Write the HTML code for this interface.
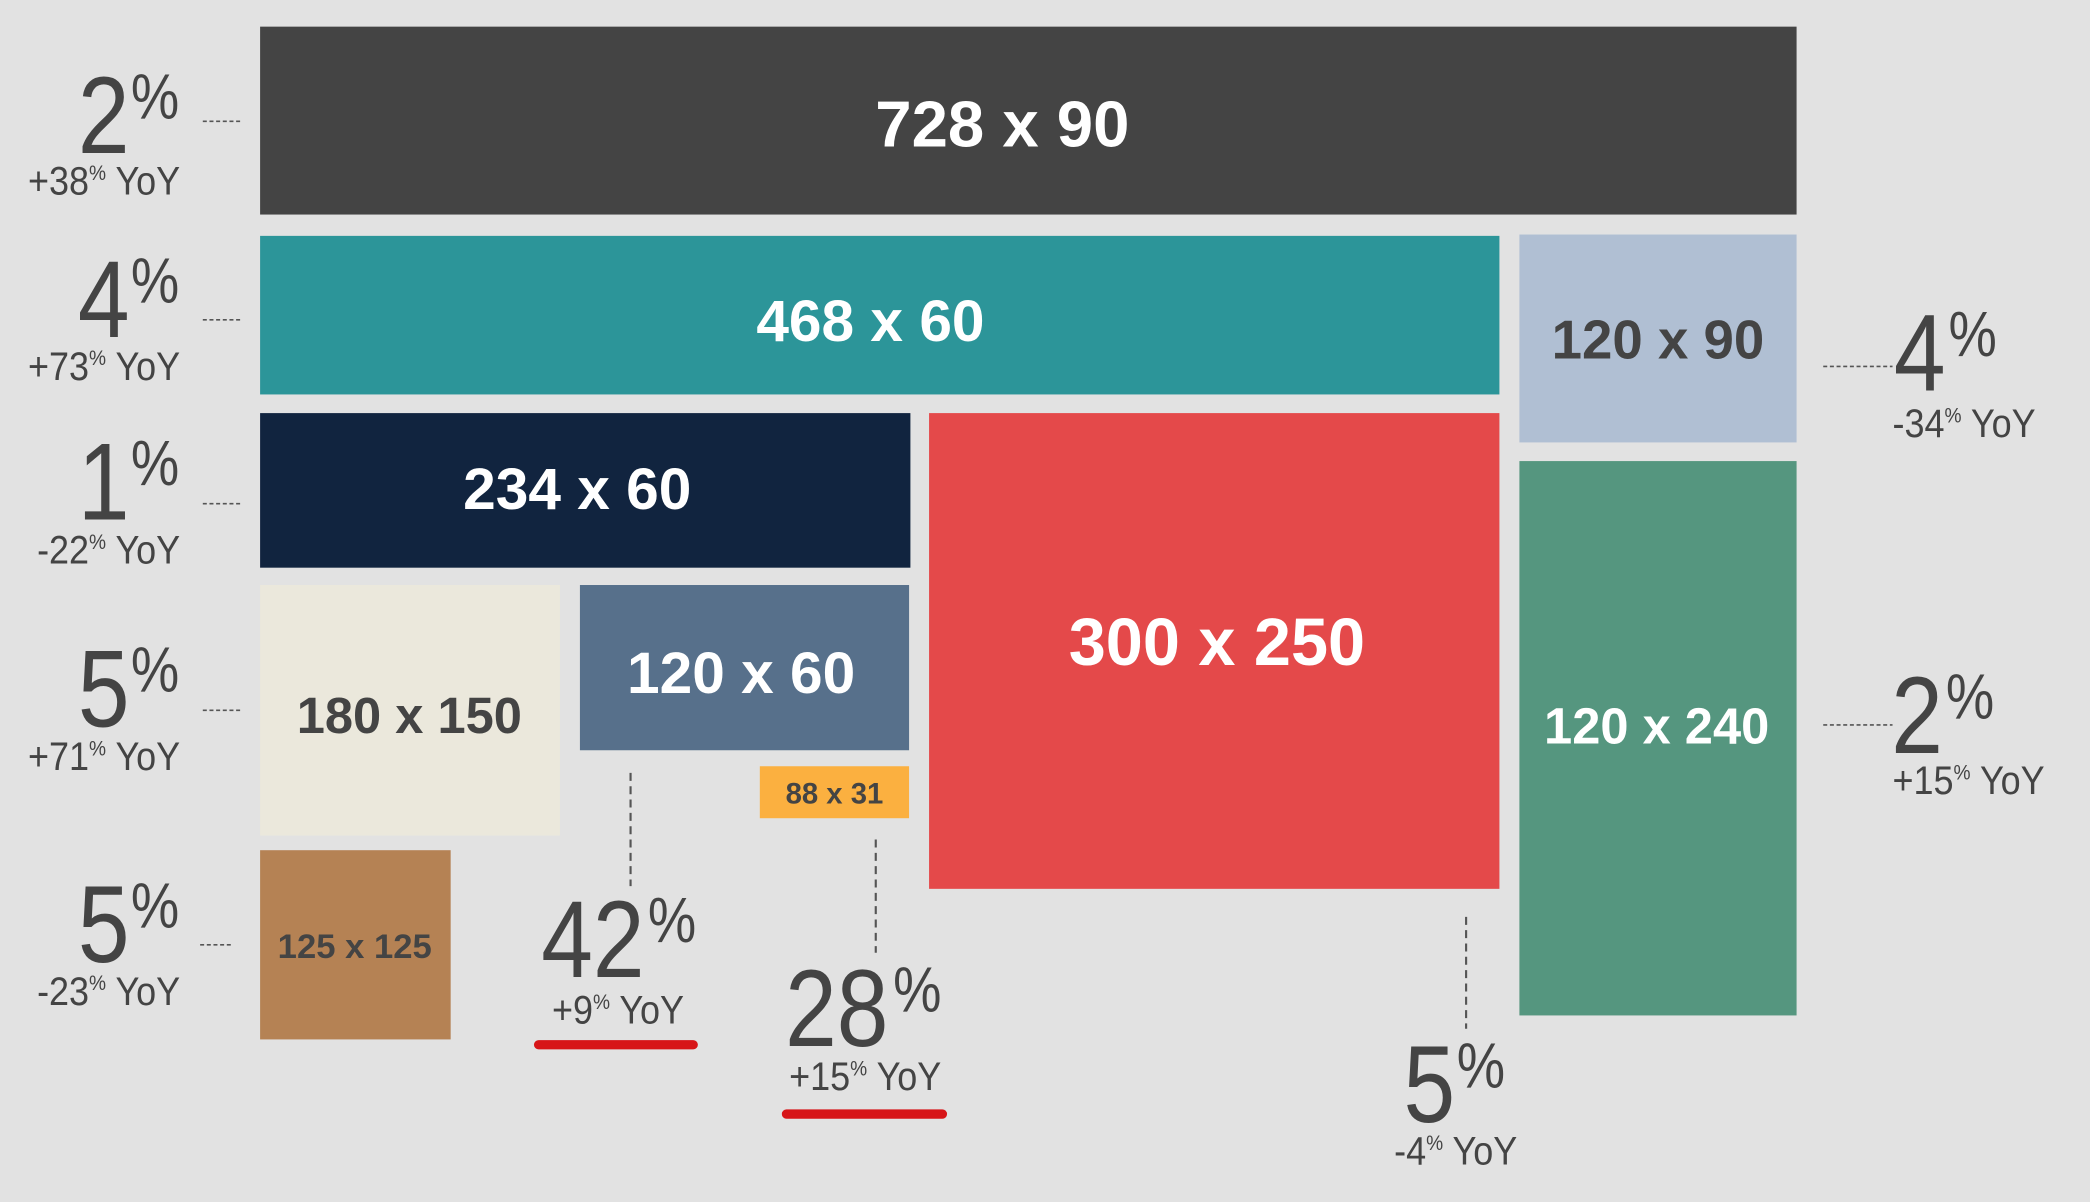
<!DOCTYPE html>
<html><head><meta charset="utf-8"><style>
html,body{margin:0;padding:0;background:#e2e2e2;}
svg{display:block;}
.b{font-family:"Liberation Sans",sans-serif;font-weight:bold;text-anchor:middle;}
.n{font-family:"Liberation Sans",sans-serif;fill:#444;}
</style></head><body>
<svg width="2090" height="1202" viewBox="0 0 1568 902" xmlns="http://www.w3.org/2000/svg">
<rect width="1568" height="902" fill="#e2e2e2"/>
<rect x="195" y="20" width="1153" height="141" fill="#444444"/>
<rect x="195" y="177" width="930" height="119" fill="#2c9599"/>
<rect x="1140" y="176" width="208" height="156" fill="#b0bfd3"/>
<rect x="195" y="310" width="488" height="116" fill="#11243f"/>
<rect x="697" y="310" width="428" height="357" fill="#e4494a"/>
<rect x="1140" y="346" width="208" height="416" fill="#55967f"/>
<rect x="195" y="439" width="225" height="188" fill="#ebe8dc"/>
<rect x="435" y="439" width="247" height="124" fill="#57708b"/>
<rect x="570" y="575" width="112" height="39" fill="#fbb040"/>
<rect x="195" y="638" width="143" height="142" fill="#b58254"/>
<text class="b" x="752" y="110" font-size="49" fill="#fff">728 x 90</text>
<text class="b" x="653" y="256" font-size="44" fill="#fff">468 x 60</text>
<text class="b" x="1244" y="269" font-size="41" fill="#444">120 x 90</text>
<text class="b" x="433" y="382" font-size="44" fill="#fff">234 x 60</text>
<text class="b" x="913" y="499" font-size="50" fill="#fff">300 x 250</text>
<text class="b" x="1243" y="558" font-size="38" fill="#fff">120 x 240</text>
<text class="b" x="307" y="550" font-size="38" fill="#444">180 x 150</text>
<text class="b" x="556" y="520" font-size="44" fill="#fff">120 x 60</text>
<text class="b" x="626" y="603" font-size="22" fill="#444">88 x 31</text>
<text class="b" x="266" y="719" font-size="26" fill="#444">125 x 125</text>
<g stroke="#555" stroke-width="1.2" stroke-dasharray="3,2" fill="none">
<line x1="152" y1="91" x2="181" y2="91"/>
<line x1="152" y1="240" x2="181" y2="240"/>
<line x1="152" y1="378" x2="181" y2="378"/>
<line x1="152" y1="533" x2="181" y2="533"/>
<line x1="150" y1="709" x2="175" y2="709"/>
<line x1="1368" y1="275" x2="1420" y2="275"/>
<line x1="1368" y1="544" x2="1420" y2="544"/>
</g>
<g stroke="#555" stroke-width="1.6" stroke-dasharray="6,4" fill="none">
<line x1="473" y1="580" x2="473" y2="665"/>
<line x1="657" y1="630" x2="657" y2="715"/>
<line x1="1100" y1="688" x2="1100" y2="772"/>
</g>
<line x1="404" y1="784" x2="520" y2="784" stroke="#d71518" stroke-width="7" stroke-linecap="round"/>
<line x1="590" y1="836" x2="707" y2="836" stroke="#d71518" stroke-width="7" stroke-linecap="round"/>
<g class="n">
<g transform="translate(97,115) scale(0.85,1)"><text font-size="82" text-anchor="end">2</text></g>
<g transform="translate(98,89) scale(0.85,1)"><text font-size="48">%</text></g>
<g transform="translate(135,146) scale(0.9,1)"><text font-size="30" text-anchor="end">+38<tspan font-size="16" dy="-11">%</tspan><tspan dy="11"> YoY</tspan></text></g>

<g transform="translate(97,253) scale(0.85,1)"><text font-size="82" text-anchor="end">4</text></g>
<g transform="translate(98,227) scale(0.85,1)"><text font-size="48">%</text></g>
<g transform="translate(135,285) scale(0.9,1)"><text font-size="30" text-anchor="end">+73<tspan font-size="16" dy="-11">%</tspan><tspan dy="11"> YoY</tspan></text></g>

<g transform="translate(97,390) scale(0.85,1)"><text font-size="82" text-anchor="end">1</text></g>
<g transform="translate(98,364) scale(0.85,1)"><text font-size="48">%</text></g>
<g transform="translate(135,423) scale(0.9,1)"><text font-size="30" text-anchor="end">-22<tspan font-size="16" dy="-11">%</tspan><tspan dy="11"> YoY</tspan></text></g>

<g transform="translate(97,545) scale(0.85,1)"><text font-size="82" text-anchor="end">5</text></g>
<g transform="translate(98,519) scale(0.85,1)"><text font-size="48">%</text></g>
<g transform="translate(135,578) scale(0.9,1)"><text font-size="30" text-anchor="end">+71<tspan font-size="16" dy="-11">%</tspan><tspan dy="11"> YoY</tspan></text></g>

<g transform="translate(97,722) scale(0.85,1)"><text font-size="82" text-anchor="end">5</text></g>
<g transform="translate(98,696) scale(0.85,1)"><text font-size="48">%</text></g>
<g transform="translate(135,754) scale(0.9,1)"><text font-size="30" text-anchor="end">-23<tspan font-size="16" dy="-11">%</tspan><tspan dy="11"> YoY</tspan></text></g>

<g transform="translate(1421,293) scale(0.85,1)"><text font-size="82">4</text></g>
<g transform="translate(1462,267) scale(0.85,1)"><text font-size="48">%</text></g>
<g transform="translate(1420,328) scale(0.9,1)"><text font-size="30">-34<tspan font-size="16" dy="-11">%</tspan><tspan dy="11"> YoY</tspan></text></g>

<g transform="translate(1419,565) scale(0.85,1)"><text font-size="82">2</text></g>
<g transform="translate(1460,539) scale(0.85,1)"><text font-size="48">%</text></g>
<g transform="translate(1420,596) scale(0.9,1)"><text font-size="30">+15<tspan font-size="16" dy="-11">%</tspan><tspan dy="11"> YoY</tspan></text></g>

<g transform="translate(406,733) scale(0.85,1)"><text font-size="82">42</text></g>
<g transform="translate(486,707) scale(0.85,1)"><text font-size="48">%</text></g>
<g transform="translate(414,768) scale(0.9,1)"><text font-size="30">+9<tspan font-size="16" dy="-11">%</tspan><tspan dy="11"> YoY</tspan></text></g>

<g transform="translate(589,785) scale(0.85,1)"><text font-size="82">28</text></g>
<g transform="translate(670,759) scale(0.85,1)"><text font-size="48">%</text></g>
<g transform="translate(592,818) scale(0.9,1)"><text font-size="30">+15<tspan font-size="16" dy="-11">%</tspan><tspan dy="11"> YoY</tspan></text></g>

<g transform="translate(1053,842) scale(0.85,1)"><text font-size="82">5</text></g>
<g transform="translate(1093,816) scale(0.85,1)"><text font-size="48">%</text></g>
<g transform="translate(1046,874) scale(0.9,1)"><text font-size="30">-4<tspan font-size="16" dy="-11">%</tspan><tspan dy="11"> YoY</tspan></text></g>
</g>
</svg>
</body></html>
